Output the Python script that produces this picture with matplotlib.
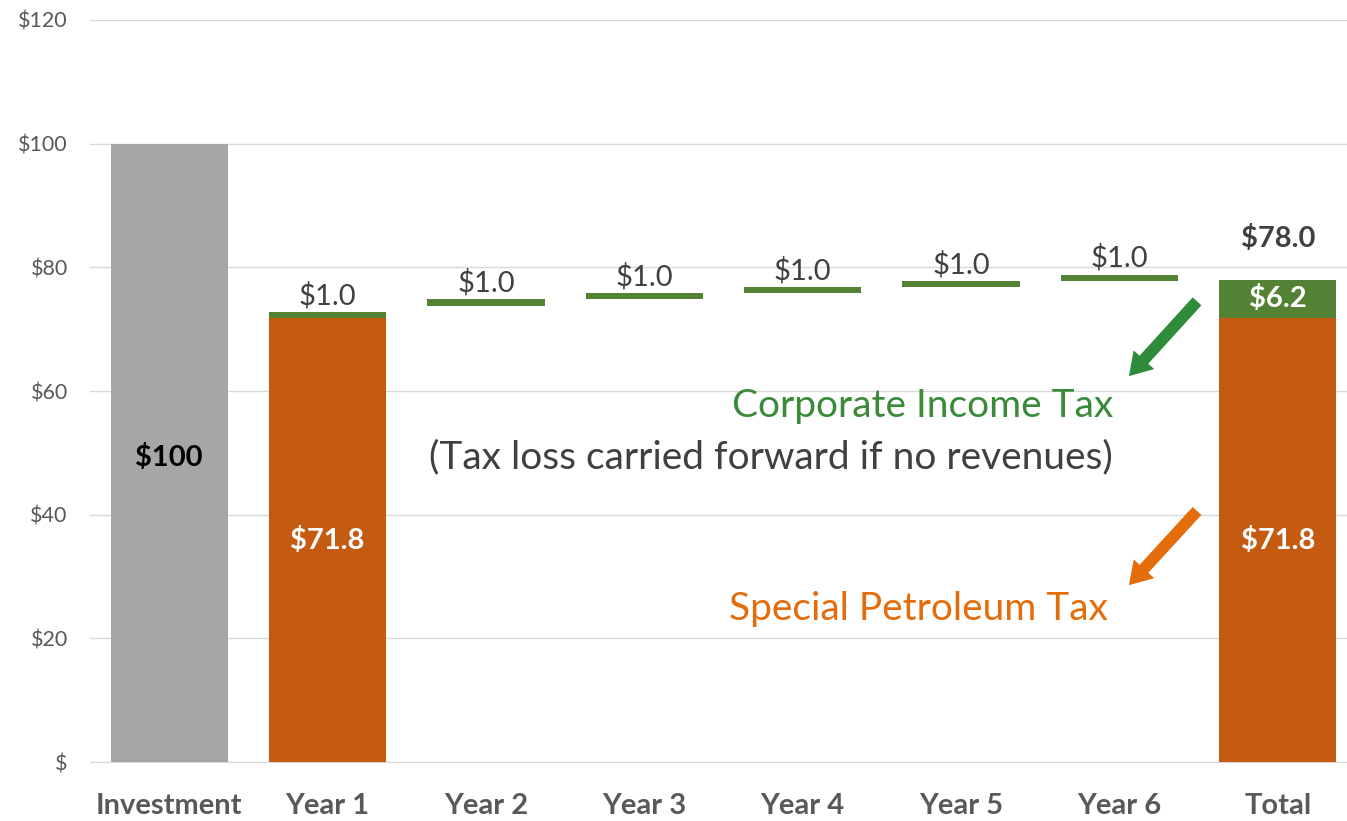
import matplotlib
matplotlib.use("Agg")
import matplotlib.pyplot as plt
import numpy as np

categories = ["Investment", "Year 1", "Year 2", "Year 3", "Year 4", "Year 5", "Year 6", "Total"]
investment = 100.0
spt = 71.8                     # special petroleum tax (Year 1 and Total)
cit_bottoms = [71.8, 73.8, 74.8, 75.8, 76.8, 77.8]   # Year 1..6 floating steps
cit_steps = [1.0, 1.0, 1.0, 1.0, 1.0, 1.0]
cit_total = 6.2
total = 78.0
yticks = [0, 20, 40, 60, 80, 100, 120]
ytick_labels = ["$", "$20", "$40", "$60", "$80", "$100", "$120"]

plt.rcParams['font.family'] = ['Lato', 'DejaVu Sans']

gray = "#a6a6a6"
orange = "#c55a11"
green = "#548235"
txt = "#595959"

fig = plt.figure(figsize=(13.47, 8.21), dpi=100)
ax = fig.add_axes([90 / 1347, 59 / 821, 1267 / 1347, 742 / 821])

x = np.arange(len(categories))
w = 0.74

ax.bar(x[0], investment, width=w, color=gray, zorder=3)
ax.bar(x[1], spt, width=w, color=orange, zorder=3)
ax.bar(x[1:7], cit_steps, bottom=cit_bottoms, width=w, color=green, zorder=3)
ax.bar(x[7], spt, width=w, color=orange, zorder=3)
ax.bar(x[7], cit_total, bottom=spt, width=w, color=green, zorder=3)

# labels
ax.text(x[0], 49.2, "$100", ha="center", va="center", fontsize=21, fontweight="bold", color="black", zorder=4)
ax.text(x[1], 35.9, "$71.8", ha="center", va="center", fontsize=21, fontweight="bold", color="white", zorder=4)
ax.text(x[7], 35.9, "$71.8", ha="center", va="center", fontsize=21, fontweight="bold", color="white", zorder=4)
ax.text(x[7], spt + cit_total / 2, "$6.2", ha="center", va="center", fontsize=21, fontweight="bold", color="white", zorder=4)
ax.annotate("$78.0", (x[7], total), xytext=(0, 20), textcoords="offset points",
            ha="center", va="bottom", fontsize=21, fontweight="bold", color="#404040")
for i in range(6):
    ax.annotate("$%.1f" % cit_steps[i], (x[i + 1], cit_bottoms[i] + cit_steps[i]),
                xytext=(0, 2), textcoords="offset points",
                ha="center", va="bottom", fontsize=21, color="#404040")

# callouts
ax.text(5.96, 57.5, "Corporate Income Tax", ha="right", va="center", fontsize=28, color="#3a8a3a")
ax.text(5.96, 49.3, "(Tax loss carried forward if no revenues)", ha="right", va="center", fontsize=28, color="#404040")
ax.text(5.93, 24.8, "Special Petroleum Tax", ha="right", va="center", fontsize=28, color="#e46c0a")
ax.annotate("", xy=(6.06, 62.4), xytext=(6.49, 74.5),
            arrowprops=dict(arrowstyle="simple,head_length=1.6,head_width=2.0,tail_width=0.85",
                            color="#2e8b3a", lw=0, shrinkA=0, shrinkB=0))
ax.annotate("", xy=(6.06, 28.6), xytext=(6.49, 40.6),
            arrowprops=dict(arrowstyle="simple,head_length=1.6,head_width=2.0,tail_width=0.85",
                            color="#e46c0a", lw=0, shrinkA=0, shrinkB=0))

ax.set_xlim(-0.5, 7.5)
ax.set_ylim(0, 120)
ax.set_yticks(yticks)
ax.set_yticklabels(ytick_labels)
ax.set_xticks(x)
ax.set_xticklabels(categories, fontsize=21, fontweight="bold", color=txt)
ax.tick_params(axis="y", length=0, pad=16, labelsize=15.5, labelcolor=txt)
ax.tick_params(axis="x", length=0, pad=22)
ax.grid(axis="y", color="#d9d9d9", lw=1, zorder=0)
for s in ["top", "right", "left"]:
    ax.spines[s].set_visible(False)
ax.spines["bottom"].set_color("#d9d9d9")

fig.savefig("out.png", dpi=100)
